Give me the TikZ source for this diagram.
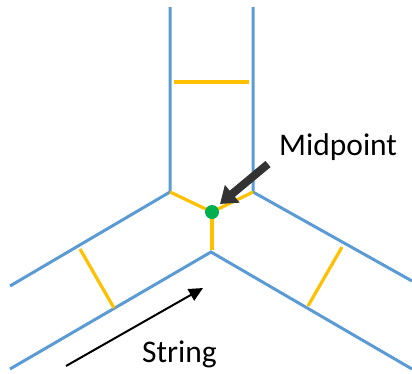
\documentclass[tikz,border=0pt]{standalone}
\usepackage{fontspec}
\setmainfont{Carlito}
\usetikzlibrary{arrows.meta}
\definecolor{wallblue}{HTML}{5B9BD5}
\definecolor{rungyellow}{HTML}{FFC000}
\definecolor{midgreen}{HTML}{00B050}
\definecolor{darkarrow}{HTML}{333333}
\begin{document}
\begin{tikzpicture}[x=1pt,y=-1pt,
  wall/.style={wallblue,line width=3pt},
  rung/.style={rungyellow,line width=3.2pt},
  lbl/.style={font=\fontsize{31.5}{38}\selectfont,inner sep=0pt,anchor=base west}]
\useasboundingbox (0,0) rectangle (412,373);
% blue walls
\coordinate (tl) at (170,7);
\coordinate (tr) at (253,7);
\coordinate (vl) at (170,192);
\coordinate (vr) at (253,192);
\coordinate (vb) at (211,252);
\coordinate (el) at (10,286);
\coordinate (er) at (412,281);
\coordinate (bl) at (10,369);
\coordinate (br) at (412,369);
\draw[wall] (tl) -- (vl) -- (el);
\draw[wall] (tr) -- (vr) -- (er);
\draw[wall] (bl) -- (vb) -- (br);
% yellow rungs
\coordinate (r1a) at (174,82);
\coordinate (r1b) at (249,82);
\coordinate (r2a) at (80,249);
\coordinate (r2b) at (114,308);
\coordinate (r3a) at (342,247);
\coordinate (r3b) at (308,306);
\coordinate (mid) at (212,212);
\coordinate (midb) at (212,250);
\draw[rung] (r1a) -- (r1b);
\draw[rung] (r2a) -- (r2b);
\draw[rung] (r3a) -- (r3b);
\draw[rung] (vl) -- (mid) -- (vr);
\draw[rung] (mid) -- (midb);
\node[circle,fill=midgreen,minimum size=14pt,inner sep=0pt] (dot) at (mid) {};
% thick arrow to midpoint
\coordinate (at) at (268,164);
\coordinate (ah) at (220,204);
\draw[darkarrow,line width=8pt,-{Triangle[length=16pt,width=22pt]}] (at) -- (ah);
\node[lbl] (mtext) at (279,155) {Midpoint};
% string arrow
\coordinate (st) at (66,366);
\coordinate (sh) at (203,288);
\draw[black,line width=2pt,-{Triangle[length=14pt,width=13pt]}] (st) -- (sh);
\node[lbl] (stext) at (142,362) {String};
\end{tikzpicture}
\end{document}
